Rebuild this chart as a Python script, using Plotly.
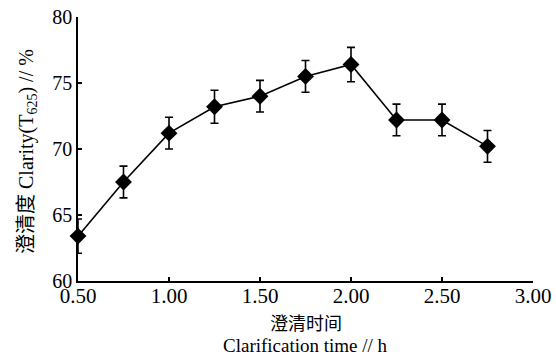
import plotly.graph_objects as go

time_h = [0.50, 0.75, 1.00, 1.25, 1.50, 1.75, 2.00, 2.25, 2.50, 2.75]
clarity = [63.4, 67.5, 71.2, 73.2, 74.0, 75.5, 76.4, 72.2, 72.2, 70.2]
err = [1.3, 1.2, 1.2, 1.25, 1.2, 1.2, 1.3, 1.2, 1.2, 1.2]

x_tickvals = [0.5, 1.0, 1.5, 2.0, 2.5, 3.0]
x_ticktext = ["0.50", "1.00", "1.50", "2.00", "2.50", "3.00"]
y_tickvals = [60, 65, 70, 75, 80]

x_title_cn = "澄清时间"
x_title_en = "Clarification time // h"
y_title = "澄清度 Clarity(T<sub>625</sub>) // %"

FONT = "Liberation Serif, Noto Sans CJK SC, serif"

fig = go.Figure()
fig.add_trace(go.Scatter(
    x=time_h, y=clarity, mode="lines+markers",
    line=dict(color="black", width=1.6),
    marker=dict(symbol="diamond", size=13, color="black"),
    error_y=dict(type="data", array=err, visible=True, color="black", thickness=1.6, width=4),
    cliponaxis=False, showlegend=False,
))

fig.update_layout(
    width=556, height=356,
    margin=dict(l=78, r=23, t=17, b=75),
    paper_bgcolor="white", plot_bgcolor="white",
    font=dict(family=FONT, color="black", size=19),
    xaxis=dict(
        range=[0.5, 3.0], tickvals=x_tickvals, ticktext=x_ticktext,
        showline=True, linecolor="black", linewidth=1.5,
        ticks="inside", ticklen=4, tickcolor="black", tickwidth=1.5,
        showgrid=False, zeroline=False, automargin=False,
        tickfont=dict(size=21), ticklabelstandoff=-5, ticklabeloverflow="allow",
    ),
    yaxis=dict(
        range=[60, 80], tickvals=y_tickvals,
        showline=True, linecolor="black", linewidth=1.5,
        ticks="inside", ticklen=4, tickcolor="black", tickwidth=1.5,
        showgrid=False, zeroline=False, automargin=False,
        tickfont=dict(size=20), ticklabelstandoff=0, ticklabeloverflow="allow",
    ),
    annotations=[
        dict(text=x_title_cn, xref="paper", yref="paper", x=0.5, y=0,
             yshift=-43, xanchor="center", yanchor="middle", showarrow=False,
             font=dict(size=18)),
        dict(text=x_title_en, xref="paper", yref="paper", x=0.5, y=0,
             yshift=-64, xanchor="center", yanchor="middle", showarrow=False,
             font=dict(size=19)),
        dict(text=y_title, xref="paper", yref="paper", x=0, y=0.5,
             xshift=-51, yshift=-3, xanchor="center", yanchor="middle", showarrow=False,
             textangle=-90, font=dict(size=20)),
    ],
)

# remove the browser's default 8px body margin so the figure fills the window exactly
fig.write_html("out.html", config={"displayModeBar": False},
               post_script="document.body.style.margin='0';")
